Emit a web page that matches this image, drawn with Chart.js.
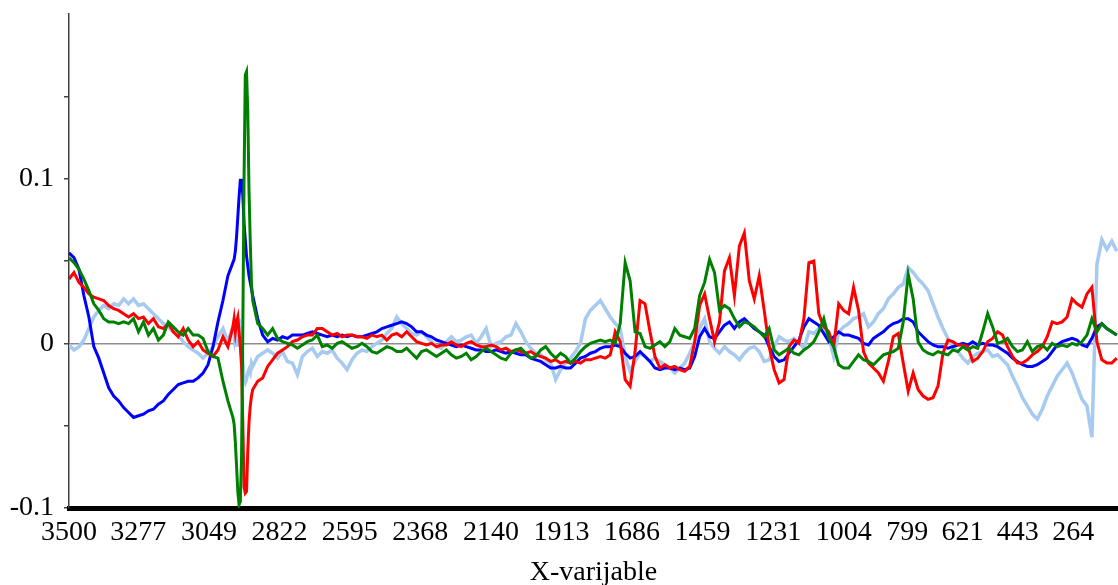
<!DOCTYPE html>
<html>
<head>
<meta charset="utf-8">
<title>X-varijable</title>
<script src="https://cdn.jsdelivr.net/npm/chart.js@4.4.1/dist/chart.umd.min.js"></script>
<style>
    html, body { margin: 0; padding: 0; background: #fff; }
    #grafico { display: block; }
</style>
</head>
<body>
<canvas id="grafico" width="1118" height="585"></canvas>
<script>
// x-variable (wavenumber)
let numerosOnda = [
    3500, 3484, 3468, 3452, 3436, 3420, 3404, 3388, 3372, 3356, 3340, 3324, 3308, 3292, 3276, 3260, 3244,
    3228, 3212, 3196, 3180, 3164, 3148, 3132, 3116, 3100, 3084, 3068, 3052, 3036, 3020, 3004, 2988, 2972,
    2968, 2964, 2960, 2956, 2952, 2948, 2944, 2940, 2936, 2932, 2928, 2924, 2920, 2916, 2912, 2908,
    2892, 2876, 2860, 2844, 2828, 2812, 2796, 2780, 2764, 2748, 2732, 2716, 2700, 2684, 2668, 2652, 2636,
    2620, 2604, 2588, 2572, 2556, 2540, 2524, 2508, 2492, 2476, 2460, 2444, 2428, 2412, 2396, 2380, 2364,
    2348, 2332, 2316, 2300, 2284, 2268, 2252, 2236, 2220, 2204, 2188, 2172, 2156, 2140, 2124, 2108, 2092,
    2076, 2060, 2044, 2028, 2012, 1996, 1980, 1964, 1948, 1932, 1916, 1900, 1884, 1868, 1852, 1836, 1820,
    1804, 1788, 1772, 1756, 1740, 1724, 1708, 1692, 1676, 1660, 1644, 1628, 1612, 1596, 1580, 1564, 1548,
    1532, 1516, 1500, 1484, 1468, 1452, 1436, 1420, 1404, 1388, 1372, 1356, 1340, 1324, 1308, 1292, 1276,
    1260, 1244, 1228, 1212, 1196, 1180, 1164, 1148, 1132, 1116, 1100, 1084, 1068, 1052, 1036, 1020, 1004,
    988, 972, 956, 940, 924, 908, 892, 876, 860, 844, 828, 812, 796, 780, 764, 748, 732, 716, 700, 684,
    668, 652, 636, 620, 604, 588, 572, 556, 540, 524, 508, 492, 476, 460, 444, 428, 412, 396, 380, 364,
    348, 332, 316, 300, 284, 268, 252, 236, 220, 204, 188, 172, 156, 140, 124
]

let serieAzul = [
    .055, .052, .045, .029, .016, -.002, -.009, -.018, -.027, -.032, -.035, -.039, -.042, -.045, -.044, -.043, -.041,
    -.040, -.037, -.035, -.031, -.028, -.025, -.024, -.023, -.023, -.021, -.018, -.013, -.002, .013, .026, .041, .049,
    .051, .056, .065, .077, .089, .099, .099, .090, .073, .063, .053, .047, .041, .037, .033, .029,
    .015, .005, .001, .003, .002, .004, .003, .005, .005, .005, .006, .007, .006, .005, .004, .005, .004,
    .005, .004, .005, .004, .004, .005, .006, .007, .009, .010, .011, .012, .013, .012, .010, .007, .007, .005,
    .004, .002, .001, .000, -.001, -.002, -.001, -.002, -.003, -.004, -.004, -.005, -.005, -.004, -.005, -.006, -.005,
    -.006, -.007, -.007, -.009, -.010, -.011, -.013, -.015, -.015, -.014, -.015, -.015, -.012, -.009, -.008, -.006,
    -.005, -.003, -.002, -.002, -.001, -.002,
    -.006, -.009, -.008, -.005, -.008, -.011, -.015, -.016, -.015, -.015, -.016, -.015, -.016, -.015, -.008, .004,
    .009, .004, .003, .007, .011, .013, .009, .013, .015, .012, .009, .007, .005, -.002, -.008, -.011, -.010,
    -.006, -.002, .002, .010, .015, .013,
    .011, .006, .001, .004, .007, .005, .005, .004, .003, .000, -.001, .003, .005, .007, .010, .012, .013, .015,
    .015, .013, .007, .004, .001, -.001, -.002, -.002, -.003, -.002, -.001, .000, -.001, .001, -.001, .000, -.001,
    -.001, -.002, -.004, -.006, -.009,
    -.011, -.013, -.014, -.014, -.013, -.011, -.009, -.005, -.001, .001, .002, .003, .002, -.001, -.002, .003, .010,
    .012, .009, .007, .005
]

let serieRoja = [
    .039, .043, .037, .034, .030, .028, .027, .026, .023, .021, .020, .018, .016, .018, .015, .016, .012,
    .015, .010, .009, .012, .007, .004, .009, .002, -.002, .001, -.004, -.006, -.008, -.004, .004, -.002, .010,
    .015, .007, .013, .016, .007, -.002, -.014, -.048, -.087, -.091, -.090, -.066, -.048, -.038, -.032, -.028,
    -.023, -.021, -.014, -.010, -.006, -.004, -.002, .001, .002, .004, .005, .005, .009, .009, .007, .005, .006,
    .004, .005, .005, .004, .004, .003, .005, .004, .005, .002, .005, .006, .004, .007, .004, .001, .000, -.001,
    .000, -.002, -.001, -.001, .001, -.001, -.002, .000, .001, -.001, -.002, -.002, -.001, -.002, -.004, -.003, -.005,
    -.004, -.005, -.006, -.005, -.007, -.008, -.009, -.011, -.010, -.012, -.011, -.012, -.011, -.012, -.010, -.010,
    -.009, -.008, -.009, -.007, .007, .001,
    -.022, -.026, -.005, .026, .024, .007, -.008, -.015, -.013, -.015, -.014, -.016, -.017, -.014, .001, .023,
    .030, .015, .001, .013, .044, .052, .029, .059, .067, .038, .027, .041, .020, -.002, -.016, -.024, -.022,
    -.002, .002, .000, .015, .049, .050,
    .018, .010, .007, -.002, .024, .020, .018, .034, .020, -.005, -.012, -.015, -.018, -.023, -.011, .004, .006,
    -.012, -.029, -.018, -.028, -.032, -.034, -.033, -.026, -.006, .002, .001, -.001, -.001, -.002, -.011, -.009,
    -.005, .001, .003, .007, .005, -.002, -.008,
    -.012, -.012, -.010, -.007, -.005, -.002, .004, .013, .012, .013, .016, .027, .024, .022, .030, .034, .001,
    -.010, -.012, -.012, -.009
]

let serieVerde = [
    .052, .049, .045, .039, .032, .024, .020, .015, .013, .013, .012, .013, .012, .015, .007, .013, .005,
    .009, .002, .005, .013, .010, .007, .005, .009, .005, .005, .003, -.005, -.008, -.009, -.023, -.035, -.045,
    -.049, -.060, -.075, -.090, -.098, -.096, -.069, .007, .099, .163, .165, .141, .093, .062, .036, .026,
    .012, .009, .005, .009, .003, .001, .000, -.001, -.003, -.001, .001, .002, .005, -.002, -.001, -.003, .000,
    .001, -.001, -.003, -.002, .000, -.002, -.005, -.006, -.004, -.002, -.003, -.005, -.005, -.003, -.006, -.009,
    -.005, -.004,
    -.006, -.008, -.006, -.004, -.007, -.009, -.008, -.006, -.010, -.008, -.005, -.003, -.005, -.007, -.009, -.010,
    -.006, -.004, -.003, -.006, -.009, -.008, -.004, -.002, -.006, -.009, -.006, -.008, -.012, -.009, -.005, -.002,
    .000, .001, .002, .001, .002, .000, .012,
    .049, .038, .007, .006, -.002, -.003, -.001, .001, -.002, .001, .009, .005, .004, .003, .009, .029, .037,
    .051, .043, .020, .023, .021, .015, .010, .013, .012, .010, .007, .004, .009, -.004, -.007, -.005, -.003,
    -.006, -.007, -.004, -.002, .001,
    .007, .015, .003, -.002, -.013, -.015, -.015, -.011, -.007, -.010, -.011, -.013, -.010, -.007, -.006, -.005,
    -.003, .013, .042, .027, .001, -.004, -.006, -.007, -.005, -.006, -.007, -.004, -.005, -.002, -.004, -.002,
    -.003, .007, .018, .010, .000, .001, .003, -.002,
    -.005, -.004, .001, -.005, -.002, -.001, -.004, .000, -.002, -.001, -.002, .000, -.001, .001, .005, .015, .007,
    .012, .009, .007, .005
]

let serieCeleste = [
    -.001, -.004, -.002, .002, .009, .016, .020, .023, .021, .024, .023, .027, .024, .027, .023, .024, .021,
    .018, .015, .012, .010, .007, .005, .001, -.002, -.004, -.006, -.009, -.006, -.002, .004, .009, .001, .010,
    .004, .013, -.002, .007, .015, -.002, .004, -.011, -.022, -.024, -.022, -.018, -.016, -.018, -.012, -.014,
    -.008, -.006, -.004, -.006, -.009, -.005, -.011, -.012, -.019, -.008, -.005, -.003, -.008, -.005, -.006, -.004,
    -.009, -.012, -.016, -.010, -.006, -.004, -.005, -.002, .000, .002, .006, .009, .016, .012, .009, .006, .005,
    .007, .004,
    .001, -.002, -.003, .001, .004, .001, .002, .004, .005, .000, .004, .009, -.002, .000, .001, .004, .005, .012,
    .007, .001, -.003, -.006, -.007, -.010, -.012, -.022, -.016, -.012, -.009, -.005, .000, .015, .020, .023, .026,
    .021, .016, .012, .009,
    -.008, -.017, -.011, -.006, -.008, -.011, -.009, -.011, -.013, -.015, -.018, -.015, -.012, -.006, .001, .009,
    .015, .001, -.003, -.006, -.002, -.005, -.007, -.010, -.006, -.003, -.002, -.005, -.011, -.010, -.002, .004,
    .002, .001, .003, .000, -.003, .007, .006,
    .009, .007, .004, -.008, .007, .010, .012, .015, .016, .018, .010, .013, .018, .021, .027, .030, .034, .036,
    .046, .043, .039, .036, .032, .024, .016, .009, .003, -.002, -.005, -.009, -.012, -.008, -.006, -.005, -.004,
    -.008, -.007, -.010, -.013, -.020,
    -.026, -.033, -.038, -.043, -.046, -.040, -.032, -.026, -.020, -.016, -.012, -.018, -.026, -.034, -.038, -.057,
    .048, .063, .057, .062, .056
]

let etiquetasX = [3500, 3277, 3049, 2822, 2595, 2368, 2140, 1913, 1686, 1459, 1231, 1004, 799, 621, 443, 264]
let ticksYPrincipales = [-0.1, 0, 0.1]
let ticksYMenores = [-0.05, 0.05, 0.15]

function armarPuntos(valores) {
    return numerosOnda.map((w, i) => ({ x: w, y: valores[i] }))
}

Chart.defaults.font.family = "'Liberation Serif', 'Times New Roman', serif"
Chart.defaults.font.size = 28
Chart.defaults.color = '#000'

// the first dataset is drawn on top
const grafico = new Chart(document.getElementById('grafico'), {
    type: 'line',
    data: {
        datasets: [
            { label: 'verde', data: armarPuntos(serieVerde), borderColor: '#008000', borderWidth: 3 },
            { label: 'roja', data: armarPuntos(serieRoja), borderColor: '#ff0000', borderWidth: 3 },
            { label: 'azul', data: armarPuntos(serieAzul), borderColor: '#0000ff', borderWidth: 3 },
            { label: 'celeste', data: armarPuntos(serieCeleste), borderColor: '#a6caf0', borderWidth: 3.5 }
        ]
    },
    options: {
        responsive: false,
        animation: false,
        devicePixelRatio: 1,
        parsing: false,
        layout: { padding: { top: 14, right: 0, bottom: 0, left: 0 } },
        elements: { point: { radius: 0 }, line: { tension: 0 } },
        plugins: { legend: { display: false }, tooltip: { enabled: false } },
        scales: {
            x: {
                type: 'linear',
                reverse: true,
                min: 120,
                max: 3500,
                z: 1,
                afterBuildTicks: scale => { scale.ticks = etiquetasX.map(v => ({ value: v })) },
                afterFit: scale => { scale.height = 77 },
                grid: { display: false },
                border: { display: true, color: '#000', width: 5 },
                ticks: { autoSkip: false, maxRotation: 0, padding: 0, callback: v => String(v) },
                title: { display: true, text: 'X-varijable', padding: { top: 0, bottom: -4 } }
            },
            y: {
                min: -0.1,
                max: 0.2,
                z: 1,
                afterBuildTicks: scale => {
                    scale.ticks = ticksYPrincipales.concat(ticksYMenores).sort((a, b) => a - b).map(v => ({ value: v }))
                },
                afterFit: scale => {
                    scale.width = 69
                    scale.paddingTop = 0
                    scale.paddingBottom = 0
                },
                grid: {
                    drawOnChartArea: true,
                    drawTicks: true,
                    tickLength: 5,
                    lineWidth: 1.5,
                    color: ctx => (ctx.tick && ctx.tick.value === 0) ? '#8c8c8c' : 'rgba(0,0,0,0)',
                    tickColor: '#404040'
                },
                border: { display: true, color: '#404040', width: 1.5 },
                ticks: {
                    padding: 10,
                    callback: v => ticksYPrincipales.includes(v) ? String(v) : ''
                }
            }
        }
    }
})
</script>
</body>
</html>
